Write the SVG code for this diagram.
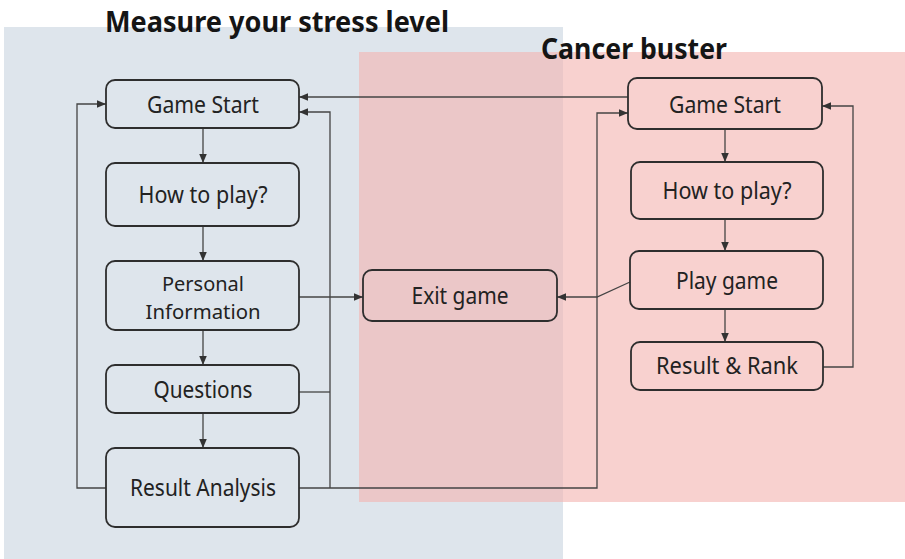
<svg xmlns="http://www.w3.org/2000/svg" width="905" height="559" viewBox="0 0 905 559">
<defs>
<style>
.bg{stroke:none}
.node rect{fill:none;stroke:#2e2e2e;stroke-width:1.8}
.node text{font-family:"Noto Sans","Open Sans","Liberation Sans",sans-serif;font-size:23px;fill:#222;text-anchor:middle}
.node text.two{font-size:20.5px}
.title{font-family:"Noto Sans","Open Sans","Liberation Sans",sans-serif;font-size:28px;font-weight:bold;fill:#151515}
#connectors path{fill:none;stroke:#444;stroke-width:1.3}
</style>
<marker id="arr" viewBox="0 0 10 10" refX="10" refY="5" markerWidth="9" markerHeight="9" markerUnits="userSpaceOnUse" orient="auto">
<path d="M0,0.8 L10,5 L0,9.2 Z" fill="#333"/>
</marker>
</defs>
<rect width="905" height="559" fill="#ffffff"/>
<g id="regions">
<rect class="bg" x="4" y="27" width="559" height="532" fill="#dee5ec"/>
<rect class="bg" x="359" y="52" width="546" height="450" fill="rgb(244,180,177)" fill-opacity="0.615"/>
</g>
<g id="titles">
<text class="title" x="105" y="32" textLength="344" lengthAdjust="spacingAndGlyphs">Measure your stress level</text>
<text class="title" x="541" y="59" textLength="186" lengthAdjust="spacingAndGlyphs">Cancer buster</text>
</g>
<g id="connectors">
<path d="M203,128 V163" marker-end="url(#arr)"/>
<path d="M203,226 V261" marker-end="url(#arr)"/>
<path d="M203,330 V365" marker-end="url(#arr)"/>
<path d="M203,413 V448" marker-end="url(#arr)"/>
<path d="M106,488 H77 V104 H106" marker-end="url(#arr)"/>
<path d="M299,392 H330"/>
<path d="M330,488 V112 H299" marker-end="url(#arr)"/>
<path d="M299,488 H597 V113 H628" marker-end="url(#arr)"/>
<path d="M299,297 H363" marker-end="url(#arr)"/>
<path d="M628,97 H299" marker-end="url(#arr)"/>
<path d="M630,282 L597,297 H557" marker-end="url(#arr)"/>
<path d="M725,129 V162" marker-end="url(#arr)"/>
<path d="M725,219 V251" marker-end="url(#arr)"/>
<path d="M725,309 V342" marker-end="url(#arr)"/>
<path d="M823,367 H853 V106 H822" marker-end="url(#arr)"/>
</g>
<g id="stress-game-start" class="node">
<rect x="106" y="80" width="193" height="48" rx="9"/>
<text x="203" y="113" textLength="112" lengthAdjust="spacingAndGlyphs">Game Start</text>
</g>
<g id="stress-how-to-play" class="node">
<rect x="106" y="163" width="193" height="63" rx="9"/>
<text x="203" y="203" textLength="129" lengthAdjust="spacingAndGlyphs">How to play?</text>
</g>
<g id="personal-information" class="node">
<rect x="106" y="261" width="193" height="69" rx="9"/>
<text class="two" x="203" y="291" textLength="82" lengthAdjust="spacingAndGlyphs">Personal</text>
<text class="two" x="203" y="319" textLength="115" lengthAdjust="spacingAndGlyphs">Information</text>
</g>
<g id="questions" class="node">
<rect x="106" y="365" width="193" height="48" rx="9"/>
<text x="203" y="398" textLength="99" lengthAdjust="spacingAndGlyphs">Questions</text>
</g>
<g id="result-analysis" class="node">
<rect x="106" y="448" width="193" height="79" rx="9"/>
<text x="203" y="496" textLength="146" lengthAdjust="spacingAndGlyphs">Result Analysis</text>
</g>
<g id="exit-game" class="node">
<rect x="363" y="270" width="194" height="51" rx="9"/>
<text x="460" y="304" textLength="97" lengthAdjust="spacingAndGlyphs">Exit game</text>
</g>
<g id="cancer-game-start" class="node">
<rect x="628" y="78" width="194" height="51" rx="9"/>
<text x="725" y="113" textLength="112" lengthAdjust="spacingAndGlyphs">Game Start</text>
</g>
<g id="cancer-how-to-play" class="node">
<rect x="631" y="162" width="192" height="57" rx="9"/>
<text x="727" y="199" textLength="129" lengthAdjust="spacingAndGlyphs">How to play?</text>
</g>
<g id="play-game" class="node">
<rect x="630" y="251" width="193" height="58" rx="9"/>
<text x="727" y="289" textLength="102" lengthAdjust="spacingAndGlyphs">Play game</text>
</g>
<g id="result-rank" class="node">
<rect x="631" y="342" width="192" height="48" rx="9"/>
<text x="727" y="374" textLength="142" lengthAdjust="spacingAndGlyphs">Result &amp; Rank</text>
</g>
</svg>
